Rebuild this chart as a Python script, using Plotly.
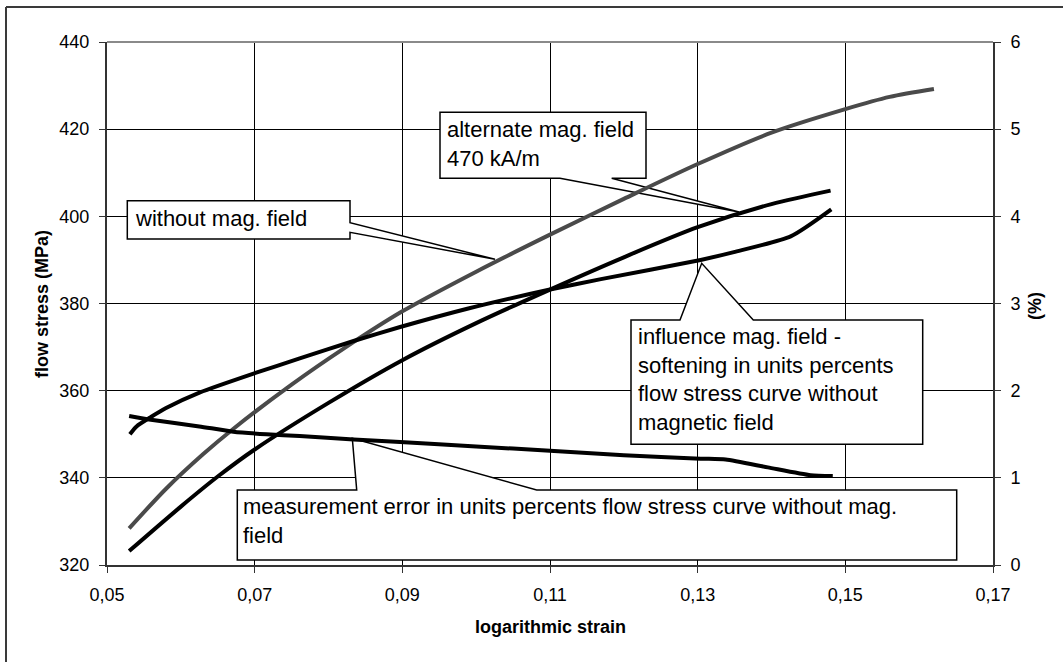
import plotly.graph_objects as go

# ---------------- data ----------------
strain_without = [0.053, 0.058, 0.063, 0.067, 0.075, 0.082, 0.090, 0.100, 0.110, 0.120, 0.130, 0.140, 0.150, 0.156, 0.162]
stress_without = [328.4, 337.5, 345.4, 351.1, 361.4, 369.6, 378.2, 387.3, 395.8, 404.0, 412.0, 419.2, 424.6, 427.4, 429.2]

strain_alt = [0.053, 0.060, 0.065, 0.070, 0.080, 0.090, 0.100, 0.110, 0.120, 0.130, 0.140, 0.148]
stress_alt = [323.2, 333.4, 340.3, 346.5, 357.2, 367.0, 375.5, 383.2, 390.6, 397.5, 402.8, 405.9]

strain_soft = [0.0531, 0.054, 0.056, 0.058, 0.0626, 0.070, 0.0761, 0.0834, 0.0897, 0.0988, 0.110, 0.1169, 0.1304, 0.1349, 0.1426, 0.1481]
pct_soft = [1.50, 1.59, 1.70, 1.80, 1.98, 2.20, 2.37, 2.57, 2.73, 2.94, 3.16, 3.28, 3.50, 3.59, 3.77, 4.08]

strain_err = [0.053, 0.0557, 0.0625, 0.0671, 0.0716, 0.0761, 0.0834, 0.0897, 0.100, 0.110, 0.120, 0.1304, 0.1338, 0.1395, 0.1453, 0.1483]
pct_err = [1.71, 1.67, 1.59, 1.53, 1.50, 1.48, 1.44, 1.41, 1.36, 1.31, 1.26, 1.22, 1.21, 1.12, 1.03, 1.02]

x_range = [0.05, 0.17]
y_range = [320, 440]
y2_range = [0, 6]

label_without = "without mag. field"
label_alt = "alternate mag. field<br>470 kA/m"
label_soft = "influence mag. field -<br>softening in units percents<br>flow stress curve without<br>magnetic field"
label_err = "measurement error in units percents flow stress curve without mag.<br>field"

# ---------------- layout geometry ----------------
FONT = "Liberation Sans, Arial, sans-serif"
W, H = 1063, 662
L, R, T, B = 107, 70, 42, 97
PW, PH = W - L - R, H - T - B


def dx(px):
    return x_range[0] + (px - L) / PW * (x_range[1] - x_range[0])


def dy(py):
    return y_range[0] + (H - B - py) / PH * (y_range[1] - y_range[0])


def px_(px):
    return (px - L) / PW


def py_(py):
    return (H - B - py) / PH


def callout(pts):
    return "M " + " L ".join(f"{dx(a):.6f},{dy(b):.4f}" for a, b in pts) + " Z"


fig = go.Figure()
LW = 4
fig.add_trace(go.Scatter(x=strain_without, y=stress_without, mode="lines",
                         line=dict(color="#4a4a4a", width=LW, shape="spline", smoothing=0.8),
                         name="without mag. field"))
fig.add_trace(go.Scatter(x=strain_alt, y=stress_alt, mode="lines",
                         line=dict(color="black", width=LW, shape="spline", smoothing=0.8),
                         name="alternate mag. field"))
fig.add_trace(go.Scatter(x=strain_soft, y=pct_soft, mode="lines", yaxis="y2",
                         line=dict(color="black", width=LW, shape="spline", smoothing=0.6),
                         name="softening"))
fig.add_trace(go.Scatter(x=strain_err, y=pct_err, mode="lines", yaxis="y2",
                         line=dict(color="black", width=LW, shape="spline", smoothing=0.6),
                         name="measurement error"))

shapes = []
box_line = dict(color="black", width=1.5)
# callout boxes with wedges (pixel outlines)
shapes.append(dict(type="path", xref="x", yref="y", layer="between", fillcolor="white", line=box_line,
                   path=callout([(127.3, 200.7), (350, 200.7), (350, 222.7), (495, 259.3),
                                 (350, 232.3), (350, 239), (127.3, 239)])))
shapes.append(dict(type="path", xref="x", yref="y", layer="between", fillcolor="white", line=box_line,
                   path=callout([(440, 112.3), (646, 112.3), (646, 178.3), (611.7, 178.3),
                                 (739, 212), (560, 178.3), (440, 178.3)])))
shapes.append(dict(type="path", xref="x", yref="y", layer="between", fillcolor="white", line=box_line,
                   path=callout([(631, 320), (680, 320), (701.7, 263.3), (753.3, 320),
                                 (922.7, 320), (922.7, 444.3), (631, 444.3)])))
shapes.append(dict(type="path", xref="x", yref="y", layer="between", fillcolor="white", line=box_line,
                   path=callout([(237.3, 490), (356.7, 490), (352.3, 438.3), (536.7, 490),
                                 (956.7, 490), (956.7, 560), (237.3, 560)])))
# gray top edge of plot area
shapes.append(dict(type="line", xref="paper", yref="paper", x0=0, x1=1, y0=1, y1=1,
                   line=dict(color="#8a8a8a", width=2), layer="above"))
# outer chart border (top and left visible)
shapes.append(dict(type="line", xref="paper", yref="paper", x0=px_(6), x1=px_(1075), y0=py_(7), y1=py_(7),
                   line=dict(color="#3a3a3a", width=2)))
shapes.append(dict(type="line", xref="paper", yref="paper", x0=px_(6), x1=px_(6), y0=py_(7), y1=py_(675),
                   line=dict(color="#3a3a3a", width=2)))

ann_font = dict(family=FONT, size=22, color="black")
annotations = [
    dict(xref="x", yref="y", x=dx(133), y=dy(218), text=label_without, showarrow=False,
         xanchor="left", yanchor="middle", align="left", font=ann_font),
    dict(xref="x", yref="y", x=dx(445), y=dy(144), text=label_alt, showarrow=False,
         xanchor="left", yanchor="middle", align="left", font=ann_font),
    dict(xref="x", yref="y", x=dx(636), y=dy(379), text=label_soft, showarrow=False,
         xanchor="left", yanchor="middle", align="left", font=ann_font),
    dict(xref="x", yref="y", x=dx(241), y=dy(521), text=label_err, showarrow=False,
         xanchor="left", yanchor="middle", align="left", font=ann_font),
    dict(xref="paper", yref="paper", x=px_(42), y=py_(304), text="<b>flow stress (MPa)</b>", showarrow=False,
         textangle=-90, xanchor="center", yanchor="middle", font=dict(family=FONT, size=18, color="black")),
    dict(xref="paper", yref="paper", x=px_(1035), y=py_(306), text="<b>(%)</b>", showarrow=False,
         textangle=-90, xanchor="center", yanchor="middle", font=dict(family=FONT, size=18, color="black")),
    dict(xref="paper", yref="paper", x=px_(550), y=py_(627), text="<b>logarithmic strain</b>", showarrow=False,
         xanchor="center", yanchor="middle", font=dict(family=FONT, size=18, color="black")),
]

tick_font = dict(family=FONT, size=18, color="black")
fig.update_layout(
    width=W, height=H, margin=dict(l=L, r=R, t=T, b=B, pad=0),
    paper_bgcolor="white", plot_bgcolor="white", showlegend=False,
    separators=", ",
    font=dict(family=FONT, color="black"),
    xaxis=dict(range=x_range, tick0=0.05, dtick=0.02, tickformat=".2f", showgrid=True,
               gridcolor="black", gridwidth=1, zeroline=False, showline=True, linecolor="#333333",
               linewidth=2, ticks="outside", ticklen=6, tickcolor="#333333", tickwidth=1,
               tickfont=tick_font, ticklabelstandoff=6),
    yaxis=dict(range=y_range, dtick=20, showgrid=True, gridcolor="black", gridwidth=1,
               zeroline=False, showline=True, linecolor="#333333", linewidth=2,
               ticks="outside", ticklen=6, tickcolor="#333333", tickwidth=1,
               tickfont=tick_font, ticklabelstandoff=6),
    yaxis2=dict(range=y2_range, dtick=1, overlaying="y", side="right", showgrid=False,
                zeroline=False, showline=True, linecolor="#333333", linewidth=2,
                ticks="outside", ticklen=6, tickcolor="#333333", tickwidth=1,
                tickfont=tick_font, ticklabelstandoff=6),
    shapes=shapes, annotations=annotations,
)

fig.write_html("out.html")
